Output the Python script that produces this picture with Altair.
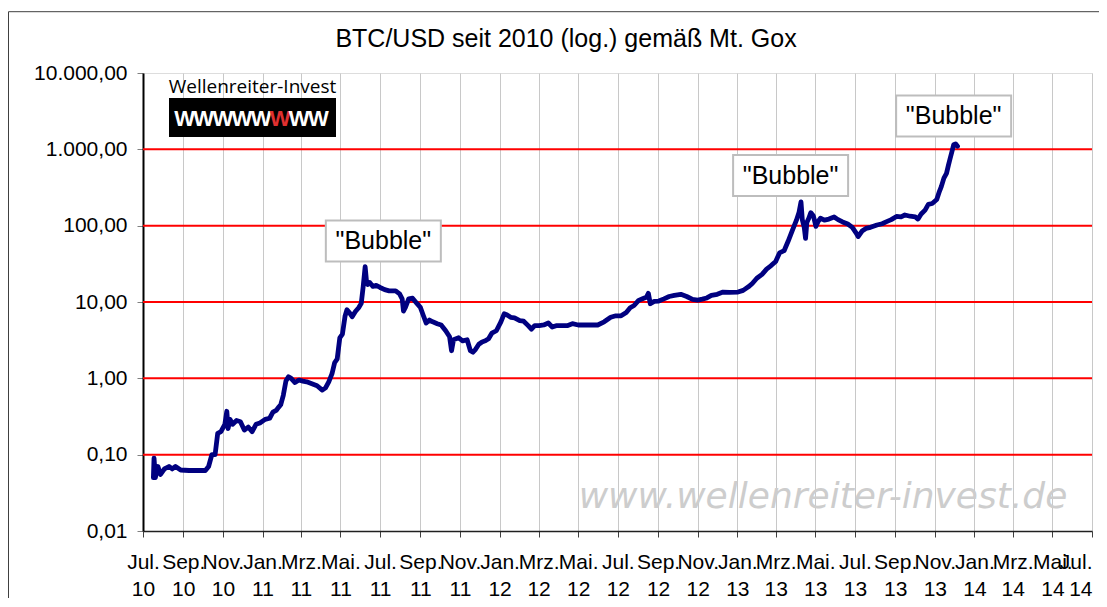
import json
import altair as alt
import pandas as pd

# ---------------- data ----------------
dates = [
    "2010-07-17", "2010-07-18", "2010-07-20", "2010-07-24", "2010-07-28", "2010-08-03",
    "2010-08-10", "2010-08-15", "2010-08-20", "2010-08-28", "2010-09-10", "2010-10-05",
    "2010-10-10", "2010-10-15", "2010-10-20", "2010-10-24", "2010-10-29", "2010-11-04",
    "2010-11-07", "2010-11-09", "2010-11-12", "2010-11-16", "2010-11-22", "2010-11-28",
    "2010-12-04", "2010-12-10", "2010-12-16", "2010-12-22", "2010-12-28", "2011-01-05",
    "2011-01-12", "2011-01-17", "2011-01-22", "2011-01-26", "2011-01-29", "2011-02-02",
    "2011-02-06", "2011-02-10", "2011-02-14", "2011-02-20", "2011-02-26", "2011-03-04",
    "2011-03-10", "2011-03-18", "2011-03-26", "2011-04-03", "2011-04-08", "2011-04-13",
    "2011-04-18", "2011-04-22", "2011-04-26", "2011-04-30", "2011-05-04", "2011-05-08",
    "2011-05-11", "2011-05-15", "2011-05-19", "2011-05-24", "2011-05-29", "2011-06-02",
    "2011-06-05", "2011-06-08", "2011-06-10", "2011-06-12", "2011-06-15", "2011-06-20",
    "2011-06-25", "2011-07-01", "2011-07-08", "2011-07-15", "2011-07-25", "2011-07-31",
    "2011-08-04", "2011-08-06", "2011-08-09", "2011-08-14", "2011-08-20", "2011-08-27",
    "2011-09-01", "2011-09-06", "2011-09-10", "2011-09-15", "2011-09-20", "2011-09-27",
    "2011-10-03", "2011-10-10", "2011-10-16", "2011-10-19", "2011-10-22", "2011-10-30",
    "2011-11-05", "2011-11-12", "2011-11-17", "2011-11-21", "2011-11-25", "2011-11-30",
    "2011-12-05", "2011-12-10", "2011-12-15", "2011-12-20", "2011-12-27", "2012-01-03",
    "2012-01-08", "2012-01-12", "2012-01-18", "2012-01-24", "2012-02-01", "2012-02-07",
    "2012-02-14", "2012-02-19", "2012-02-24", "2012-03-02", "2012-03-09", "2012-03-16",
    "2012-03-22", "2012-03-28", "2012-04-05", "2012-04-14", "2012-04-22", "2012-05-01",
    "2012-05-15", "2012-05-31", "2012-06-10", "2012-06-20", "2012-06-28", "2012-07-06",
    "2012-07-14", "2012-07-20", "2012-07-26", "2012-08-02", "2012-08-08", "2012-08-14",
    "2012-08-17", "2012-08-20", "2012-08-26", "2012-09-02", "2012-09-10", "2012-09-18",
    "2012-09-26", "2012-10-06", "2012-10-15", "2012-10-24", "2012-11-01", "2012-11-08",
    "2012-11-15", "2012-11-22", "2012-12-01", "2012-12-10", "2012-12-20", "2013-01-02",
    "2013-01-10", "2013-01-18", "2013-01-24", "2013-01-31", "2013-02-08", "2013-02-15",
    "2013-02-22", "2013-03-01", "2013-03-07", "2013-03-14", "2013-03-20", "2013-03-27",
    "2013-04-02", "2013-04-06", "2013-04-09", "2013-04-11", "2013-04-14", "2013-04-16",
    "2013-04-18", "2013-04-21", "2013-04-24", "2013-04-28", "2013-05-02", "2013-05-05",
    "2013-05-09", "2013-05-15", "2013-05-22", "2013-05-30", "2013-06-05", "2013-06-12",
    "2013-06-20", "2013-06-27", "2013-07-03", "2013-07-06", "2013-07-12", "2013-07-18",
    "2013-07-25", "2013-08-04", "2013-08-12", "2013-08-18", "2013-08-26", "2013-09-03",
    "2013-09-10", "2013-09-16", "2013-09-24", "2013-10-02", "2013-10-06", "2013-10-11",
    "2013-10-17", "2013-10-22", "2013-10-28", "2013-11-04", "2013-11-08", "2013-11-11",
    "2013-11-15", "2013-11-19", "2013-11-22", "2013-11-24", "2013-11-28", "2013-11-30",
    "2013-12-03", "2013-12-06",
]
prices = [
    0.05, 0.09, 0.05, 0.07, 0.055, 0.065,
    0.07, 0.065, 0.07, 0.063, 0.062, 0.062,
    0.07, 0.1, 0.1, 0.19, 0.2, 0.25,
    0.37, 0.22, 0.29, 0.25, 0.28, 0.27,
    0.21, 0.23, 0.2, 0.25, 0.26, 0.29,
    0.3, 0.36, 0.38, 0.42, 0.45, 0.6,
    0.92, 1.05, 1.0, 0.88, 0.95, 0.92,
    0.9, 0.85, 0.8, 0.7, 0.75, 0.9,
    1.15, 1.6, 1.8, 3.4, 3.8, 6.5,
    7.9, 7.2, 6.4, 7.5, 8.4, 9.6,
    16, 29, 19, 17, 18, 16,
    16.5, 15.5, 14.5, 14, 14, 12.8,
    11, 7.6, 8.5, 11, 11.2, 9.5,
    8.5, 6.5, 5.3, 5.8, 5.5, 5.2,
    5.0, 4.2, 3.5, 2.3, 3.2, 3.4,
    3.1, 3.2, 2.3, 2.2, 2.4, 2.8,
    3.0, 3.1, 3.3, 3.9, 4.2, 5.5,
    7.0, 6.8, 6.3, 6.2, 5.7, 5.6,
    4.9, 4.4, 4.9, 4.9, 5.0, 5.3,
    4.7, 4.9, 4.9, 4.9, 5.2, 5.0,
    5.0, 5.0, 5.5, 6.3, 6.6, 6.6,
    7.3, 8.4, 9.0, 10.5, 11.0, 11.5,
    13.0, 9.5, 10.2, 10.3, 11.0, 11.8,
    12.2, 12.6, 11.8, 10.8, 10.6, 10.9,
    11.3, 12.2, 12.6, 13.5, 13.4, 13.5,
    14.2, 15.8, 17.5, 20.5, 23, 27,
    30, 34, 44, 47, 62, 88,
    118, 150, 205, 120, 95, 68,
    110, 125, 148, 135, 98, 112,
    125, 118, 122, 130, 120, 112,
    105, 95, 80, 72, 85, 92,
    95, 102, 106, 112, 120, 132,
    130, 138, 133, 130, 122, 142,
    160, 190, 195, 220, 280, 325,
    420, 485, 620, 725, 980, 1150,
    1180, 1100,
]

y_ticks = [0.01, 0.1, 1, 10, 100, 1000, 10000]
y_tick_labels = ["0,01", "0,10", "1,00", "10,00", "100,00", "1.000,00", "10.000,00"]
red_lines = [0.1, 1, 10, 100, 1000]
month_names = ["Jan.", "Feb.", "Mrz.", "Apr.", "Mai.", "Jun.",
               "Jul.", "Aug.", "Sep.", "Okt.", "Nov.", "Dez."]
x_tick_months = [
    (2010, 7), (2010, 9), (2010, 11), (2011, 1), (2011, 3), (2011, 5),
    (2011, 7), (2011, 9), (2011, 11), (2012, 1), (2012, 3), (2012, 5),
    (2012, 7), (2012, 9), (2012, 11), (2013, 1), (2013, 3), (2013, 5),
    (2013, 7), (2013, 9), (2013, 11), (2014, 1), (2014, 3), (2014, 5),
    (2014, 7),
]

bubble_dates = ["2011-07-06", "2013-03-24", "2013-11-30"]
bubble_values = [63, 454, 2735]
bubble_texts = ['"Bubble"', '"Bubble"', '"Bubble"']

title_text = "BTC/USD seit 2010 (log.) gemäß Mt. Gox"
logo_text = "Wellenreiter-Invest"
logo_letters = ["W", "W", "W", "W", "W", "W", "W", "W"]
logo_colors = ["white", "white", "white", "white", "white", "#e03030", "white", "white"]
watermark_text = "www.wellenreiter-invest.de"

# ---------------- chart ----------------
W, H = 949, 458
FONT = "Liberation Sans"

df = pd.DataFrame({"date": pd.to_datetime(dates), "price": prices})
rules_df = pd.DataFrame({"price": red_lines})
bub_df = pd.DataFrame({"date": pd.to_datetime(bubble_dates), "price": bubble_values,
                       "text": bubble_texts})
one = pd.DataFrame({"a": [0]})

xscale = alt.Scale(domain=[alt.DateTime(year=2010, month=7, date=1),
                           alt.DateTime(year=2014, month=7, date=1)])
yscale = alt.Scale(type="log", domain=[0.01, 10000], nice=False)

x_values = [alt.DateTime(year=y, month=m, date=1) for (y, m) in x_tick_months]
x_label_expr = (f"[{json.dumps(month_names)}[month(datum.value)], "
                f"timeFormat(datum.value, '%y')]")
y_label_expr = f"{json.dumps(y_tick_labels)}[indexof({json.dumps(y_ticks)}, datum.value)]"
last_y, last_m = x_tick_months[-1]
last_tick_test = f"datum.value >= datetime({last_y}, {last_m - 1}, 1)"

xaxis = alt.Axis(values=x_values, labelExpr=x_label_expr, title=None,
                 grid=True, gridColor="#c8c8c8", gridWidth=1,
                 domainColor="#202020", domainWidth=1.5,
                 tickColor="#404040", tickSize=6, tickWidth=1,
                 labelFont=FONT, labelFontSize=21, labelColor="black",
                 labelAlign={"condition": {"test": last_tick_test, "value": "right"},
                             "value": "center"},
                 labelOverlap=False, labelBound=False, labelFlush=False,
                 labelPadding=14, labelLineHeight=27, labelBaseline="top")
yaxis = alt.Axis(values=y_ticks, labelExpr=y_label_expr, title=None, grid=False,
                 domainColor="black", domainWidth=2,
                 tickColor="#808080", tickSize=6, tickWidth=1,
                 labelFont=FONT, labelFontSize=21, labelColor="black",
                 labelPadding=10, labelOverlap=False, labelBound=False)

X = alt.X("date:T", scale=xscale, axis=xaxis)
Y = alt.Y("price:Q", scale=yscale, axis=yaxis)

title = alt.Chart(one).mark_text(
    text=title_text, font=FONT, fontSize=25, color="black",
    align="center", baseline="alphabetic"
).encode(x=alt.value(423), y=alt.value(-26))

watermark = alt.Chart(one).mark_text(
    text=watermark_text, font="DejaVu Sans", fontStyle="italic", fontSize=36,
    color="#cdcdcd", align="center", baseline="alphabetic"
).encode(x=alt.value(680), y=alt.value(435))

red = alt.Chart(rules_df).mark_rule(color="#ff0000", strokeWidth=2).encode(y=Y)

line = alt.Chart(df).mark_line(
    color="#000080", strokeWidth=4.8, strokeJoin="round", strokeCap="round"
).encode(x=X, y=Y)

logo_title = alt.Chart(one).mark_text(
    text=logo_text, font="Open Sans", fontSize=19, color="black",
    align="center", baseline="alphabetic"
).encode(x=alt.value(109.5), y=alt.value(19.7))

logo_box = alt.Chart(one).mark_rect(color="black").encode(
    x=alt.value(26), x2=alt.value(193), y=alt.value(25), y2=alt.value(64))

logo_layers = []
for i, (ch, col) in enumerate(zip(logo_letters, logo_colors)):
    logo_layers.append(
        alt.Chart(one).mark_text(
            text=ch, font=FONT, fontWeight="bold", fontSize=22,
            color=col, align="center", baseline="alphabetic"
        ).encode(x=alt.value(41.6 + 19.1 * i), y=alt.value(53))
    )

box_path = "M-1,-0.356L1,-0.356L1,0.356L-1,0.356Z"
bub_box = alt.Chart(bub_df).mark_point(
    shape=box_path, size=115 * 115, filled=True, fill="white",
    stroke="#bdbdbd", strokeWidth=2, opacity=1
).encode(x=X, y=Y)
bub_text = alt.Chart(bub_df).mark_text(
    font=FONT, fontSize=25, color="black", align="center", baseline="middle"
).encode(x=X, y=Y, text="text:N")

frame = alt.Chart(one).mark_rect(fill=None, stroke="#404040", strokeWidth=1).encode(
    x=alt.value(-134.5), x2=alt.value(990), y=alt.value(-61.3), y2=alt.value(560))

chart = alt.layer(
    title, watermark, red, line, logo_title, logo_box, *logo_layers,
    bub_box, bub_text, frame
).properties(
    width=W, height=H,
    autosize=alt.AutoSizeParams(type="none"),
    padding={"left": 135, "top": 65, "right": 7, "bottom": 67},
).configure_view(
    stroke="#606060", strokeWidth=1
).configure(background="white")

chart.save("out.html", embed_options={"renderer": "svg", "actions": False})
